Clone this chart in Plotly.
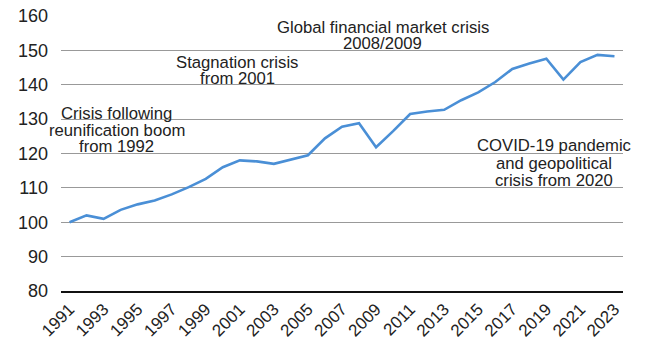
import plotly.graph_objects as go

years = list(range(1991, 2024))
values = [100.0, 102.0, 101.0, 103.6, 105.2, 106.3, 108.1, 110.2, 112.6, 116.0,
          118.0, 117.7, 117.0, 118.3, 119.5, 124.4, 127.8, 128.8, 121.8, 126.5,
          131.5, 132.2, 132.7, 135.5, 137.8, 140.8, 144.6, 146.2, 147.6, 141.5,
          146.6, 148.7, 148.3]
tick_labels = [str(y) for y in years[::2]]

# each note: lines of text, centre year, y of first line, line step (data units)
notes = [
    (["Crisis following", "reunification boom", "from 1992"], 1993.76, 131.6, 4.8),
    (["Stagnation crisis", "from 2001"], 2000.86, 146.4, 4.7),
    (["Global financial market crisis", "2008/2009"], 2009.38, 156.6, 4.7),
    (["COVID-19 pandemic", "and geopolitical", "crisis from 2020"], 2019.42, 122.3, 5.1),
]

FONT = "Liberation Sans, Arial, sans-serif"

fig = go.Figure()
fig.add_trace(go.Scatter(x=years, y=values, mode="lines",
                         line=dict(color="#4a8fd6", width=2.6)))

for lines, x, y0, step in notes:
    for i, line in enumerate(lines):
        fig.add_annotation(x=x, y=y0 - i * step, text=line, showarrow=False,
                           xref="x", yref="y", align="center",
                           font=dict(family=FONT, size=16.7, color="#222"))

fig.update_layout(
    width=645, height=338,
    margin=dict(l=61, r=22, t=16, b=47, autoexpand=False),
    paper_bgcolor="white", plot_bgcolor="white",
    showlegend=False,
    font=dict(family=FONT, color="#222"),
)
fig.update_xaxes(
    range=[1990.5, 2023.5], tickmode="array",
    tickvals=years[::2], ticktext=tick_labels, tickangle=-45,
    tickfont=dict(size=17, color="#222"),
    showgrid=False, showline=True, linecolor="#111", linewidth=1.5,
    ticks="", automargin=False,
)
fig.update_yaxes(
    range=[80, 160], dtick=10, tick0=80,
    tickfont=dict(size=18, color="#222"),
    showgrid=True, gridcolor="#999", gridwidth=1,
    zeroline=False, showline=False, ticks="", ticklabelstandoff=12,
    automargin=False,
)

fig.write_html("out.html")
